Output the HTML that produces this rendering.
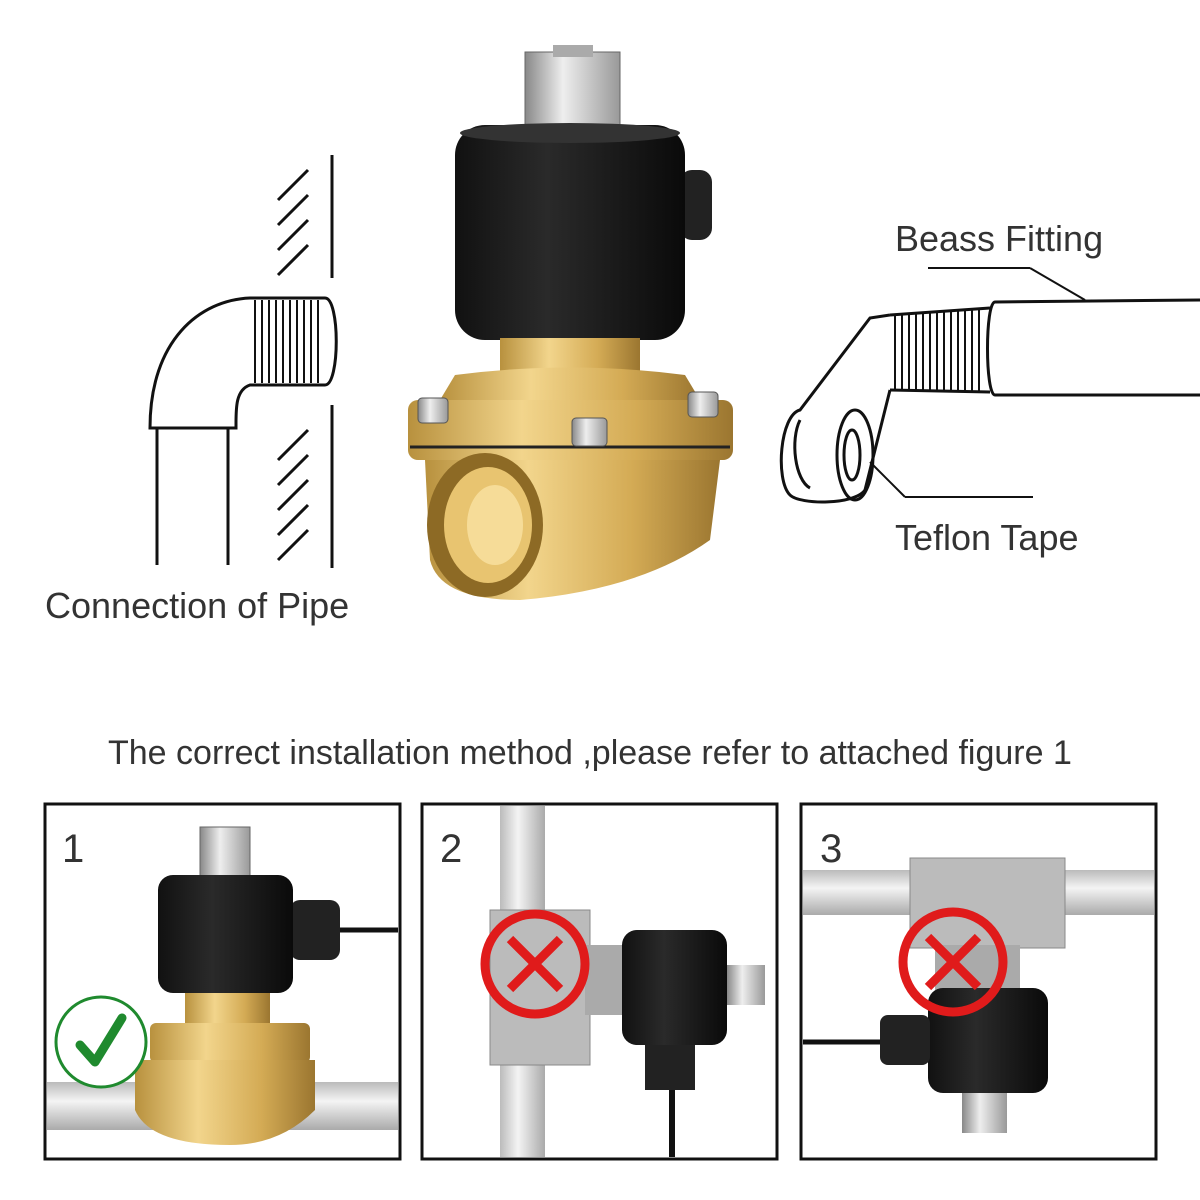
<!DOCTYPE html>
<html><head><meta charset="utf-8"><style>
html,body{margin:0;padding:0;background:#fff;}
svg{display:block}
text{font-family:"Liberation Sans",sans-serif;}
</style></head><body>
<svg width="1200" height="1200" viewBox="0 0 1200 1200" xmlns="http://www.w3.org/2000/svg">
<defs>
<linearGradient id="brass" x1="0" x2="1"><stop offset="0" stop-color="#b8913e"/><stop offset="0.35" stop-color="#f2d58c"/><stop offset="0.7" stop-color="#d4ab55"/><stop offset="1" stop-color="#9b7630"/></linearGradient>
<linearGradient id="coil" x1="0" x2="1"><stop offset="0" stop-color="#111"/><stop offset="0.4" stop-color="#2a2a2a"/><stop offset="1" stop-color="#0a0a0a"/></linearGradient>
<linearGradient id="steel" x1="0" x2="1"><stop offset="0" stop-color="#888"/><stop offset="0.4" stop-color="#eee"/><stop offset="1" stop-color="#999"/></linearGradient>
<linearGradient id="pipe" x1="0" y1="0" x2="0" y2="1"><stop offset="0" stop-color="#bbb"/><stop offset="0.4" stop-color="#f4f4f4"/><stop offset="1" stop-color="#aaa"/></linearGradient>
<linearGradient id="pipev" x1="0" x2="1"><stop offset="0" stop-color="#bbb"/><stop offset="0.4" stop-color="#f4f4f4"/><stop offset="1" stop-color="#aaa"/></linearGradient>
</defs>

<!-- left drawing -->
<g stroke="#111" stroke-width="3" fill="none">
<line x1="332" y1="155" x2="332" y2="278"/>
<line x1="332" y1="405" x2="332" y2="568"/>
<path d="M278 200 l30 -30 M278 225 l30 -30 M278 250 l30 -30 M278 275 l30 -30"/>
<path d="M278 460 l30 -30 M278 485 l30 -30 M278 510 l30 -30 M278 535 l30 -30 M278 560 l30 -30"/>
<path d="M150 428 C150 340 200 300 250 298 L325 298 C340 298 340 385 325 385 L250 385 C235 390 236 410 236 428 Z" fill="#fff"/>
<line x1="150" y1="428" x2="236" y2="428"/>
<line x1="157" y1="428" x2="157" y2="565"/>
<line x1="228" y1="428" x2="228" y2="565"/>
<path d="M255 300 v83 M262 300 v83 M269 300 v83 M276 300 v83 M283 300 v83 M290 300 v83 M297 300 v83 M304 300 v83 M311 300 v83 M318 300 v83" stroke-width="2"/>
</g>
<text x="45" y="618" font-size="36" fill="#333">Connection of Pipe</text>

<!-- right drawing -->
<g stroke="#111" stroke-width="3" fill="none">
<path d="M1200 300 L995 302 C985 302 985 395 995 395 L1200 395"/>
<path d="M890 315 L990 308 M890 390 L990 392" />
<path d="M895 315 v75 M902 313 v78 M909 313 v78 M916 312 v79 M923 312 v79 M930 311 v80 M937 311 v80 M944 310 v81 M951 310 v81 M958 309 v82 M965 309 v82 M972 309 v82 M979 308 v83" stroke-width="2"/>
<path d="M890 315 L870 318 L800 410 C780 415 775 480 790 495 C800 505 855 505 865 490 L890 390"/>
<ellipse cx="855" cy="455" rx="18" ry="45"/>
<ellipse cx="852" cy="455" rx="8" ry="25"/>
<path d="M800 420 C790 440 795 480 810 488"/>
<line x1="928" y1="268" x2="1030" y2="268" stroke-width="2"/>
<line x1="1030" y1="268" x2="1085" y2="300" stroke-width="2"/>
<line x1="870" y1="462" x2="905" y2="497" stroke-width="2"/>
<line x1="905" y1="497" x2="1033" y2="497" stroke-width="2"/>
</g>
<text x="895" y="251" font-size="36" fill="#333">Beass Fitting</text>
<text x="895" y="550" font-size="36" fill="#333">Teflon Tape</text>

<!-- main valve -->
<rect x="525" y="52" width="95" height="85" fill="url(#steel)" stroke="#666"/>
<rect x="553" y="45" width="40" height="12" fill="#aaa"/>
<rect x="680" y="170" width="32" height="70" rx="12" fill="#222"/>
<rect x="455" y="125" width="230" height="215" rx="30" fill="url(#coil)"/>
<ellipse cx="570" cy="133" rx="110" ry="10" fill="#333"/>
<rect x="500" y="338" width="140" height="40" fill="url(#brass)"/>
<path d="M455 375 Q570 360 685 375 L700 400 L440 400 Z" fill="url(#brass)"/>
<rect x="408" y="400" width="325" height="60" rx="10" fill="url(#brass)"/>
<line x1="410" y1="447" x2="730" y2="447" stroke="#222" stroke-width="3"/>
<path d="M425 460 L720 460 L710 540 Q640 590 520 600 Q440 600 430 560 Z" fill="url(#brass)"/>
<ellipse cx="485" cy="525" rx="58" ry="72" fill="#8d6a25"/>
<ellipse cx="488" cy="525" rx="44" ry="58" fill="#e8c470"/>
<ellipse cx="495" cy="525" rx="28" ry="40" fill="#f6dc98"/>
<g fill="url(#steel)" stroke="#555"><rect x="418" y="398" width="30" height="25" rx="4"/><rect x="572" y="418" width="35" height="28" rx="4"/><rect x="688" y="392" width="30" height="25" rx="4"/></g>

<text x="108" y="764" font-size="34" fill="#333">The correct installation method ,please refer to attached figure 1</text>

<!-- box 1 -->
<rect x="45" y="804" width="355" height="355" fill="#fff" stroke="#111" stroke-width="3"/>
<rect x="47" y="1082" width="351" height="48" fill="url(#pipe)"/>
<rect x="200" y="827" width="50" height="50" fill="url(#steel)" stroke="#666"/>
<rect x="290" y="900" width="50" height="60" rx="10" fill="#222"/>
<line x1="340" y1="930" x2="398" y2="930" stroke="#111" stroke-width="5"/>
<rect x="158" y="875" width="135" height="118" rx="15" fill="url(#coil)"/>
<rect x="185" y="993" width="85" height="30" fill="url(#brass)"/>
<rect x="150" y="1023" width="160" height="40" rx="6" fill="url(#brass)"/>
<path d="M135 1060 L315 1060 L315 1110 Q280 1145 230 1145 Q150 1145 135 1110 Z" fill="url(#brass)"/>
<circle cx="101" cy="1042" r="45" fill="#fff" stroke="#1f8a2e" stroke-width="3"/>
<path d="M80 1045 L95 1062 L122 1018" fill="none" stroke="#1f8a2e" stroke-width="9" stroke-linecap="round" stroke-linejoin="round"/>
<text x="62" y="862" font-size="40" fill="#333">1</text>

<!-- box 2 -->
<rect x="422" y="804" width="355" height="355" fill="#fff" stroke="#111" stroke-width="3"/>
<rect x="500" y="806" width="45" height="351" fill="url(#pipev)"/>
<rect x="490" y="910" width="100" height="155" fill="#bbb" stroke="#888"/>
<rect x="585" y="945" width="45" height="70" fill="#aaa"/>
<rect x="622" y="930" width="105" height="115" rx="15" fill="url(#coil)"/>
<rect x="727" y="965" width="38" height="40" fill="url(#steel)"/>
<rect x="645" y="1045" width="50" height="45" fill="#222"/>
<line x1="672" y1="1090" x2="672" y2="1157" stroke="#111" stroke-width="6"/>
<circle cx="535" cy="964" r="50" fill="none" stroke="#e01b1b" stroke-width="9"/>
<path d="M510 939 L560 989 M560 939 L510 989" stroke="#e01b1b" stroke-width="9"/>
<text x="440" y="862" font-size="40" fill="#333">2</text>

<!-- box 3 -->
<rect x="801" y="804" width="355" height="355" fill="#fff" stroke="#111" stroke-width="3"/>
<rect x="803" y="870" width="351" height="45" fill="url(#pipe)"/>
<rect x="910" y="858" width="155" height="90" fill="#bbb" stroke="#888"/>
<rect x="935" y="945" width="85" height="45" fill="#aaa"/>
<rect x="928" y="988" width="120" height="105" rx="15" fill="url(#coil)"/>
<rect x="880" y="1015" width="50" height="50" rx="8" fill="#222"/>
<line x1="803" y1="1042" x2="880" y2="1042" stroke="#111" stroke-width="5"/>
<rect x="962" y="1093" width="45" height="40" fill="url(#steel)"/>
<circle cx="953" cy="962" r="50" fill="none" stroke="#e01b1b" stroke-width="9"/>
<path d="M928 937 L978 987 M978 937 L928 987" stroke="#e01b1b" stroke-width="9"/>
<text x="820" y="862" font-size="40" fill="#333">3</text>
</svg>
</body></html>
